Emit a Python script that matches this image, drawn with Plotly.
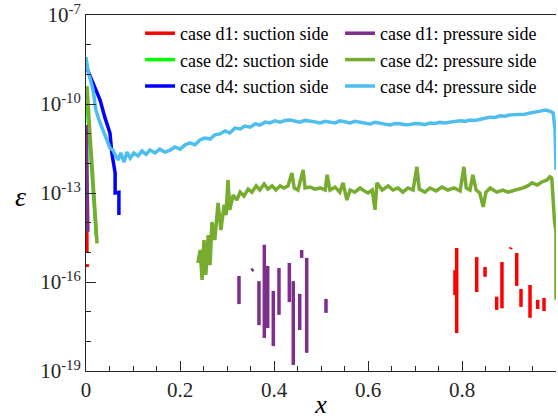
import plotly.graph_objects as go

# ---------------- data ----------------
# case d1: suction side (segments separated by None)
d1s_x = [0.001, 0.002, None, 0.0025, 0.0025, None,
         0.7887, 0.7887, None, 0.7850, 0.7850, None, 0.8313, 0.8313, None,
         0.849, 0.849, None, 0.8738, 0.8738, None, 0.885, 0.885, None,
         0.9030, 0.9045, None, 0.9164, 0.9164, None, 0.9255, 0.9255, None,
         0.9447, 0.9447, None, 0.961, 0.961, None, 0.9745, 0.9745]
d1s_y = [1.0e-12, 9.5e-16, None, 4.0e-16, 3.2e-16, None,
         1.4e-15, 1.9e-18, None, 2.5e-16, 3.6e-17, None, 6.9e-16, 4.6e-17, None,
         3.2e-16, 1.5e-16, None, 3.2e-17, 1.15e-17, None, 4.7e-16, 1.3e-17, None,
         1.3e-15, 1.45e-15, None, 9.5e-16, 7.4e-17, None, 5.8e-17, 1.45e-17, None,
         7.9e-17, 6.2e-18, None, 2.5e-17, 1.23e-17, None, 2.9e-17, 1.05e-17]

# case d2: suction side
d2s_x = [0.0, 0.010, 0.022]
d2s_y = [3.5e-10, 1.2e-12, 3.5e-15]

# case d4: suction side
d4s_x = [0.0, 0.015, 0.030, 0.040, 0.051, 0.055, 0.062, 0.062, 0.070, 0.070]
d4s_y = [1.9e-9, 5.1e-10, 1.35e-10, 3.6e-11, 1.05e-11, 2.24e-12, 4.7e-13, 1.0e-13, 1.05e-13, 1.8e-14]

# case d1: pressure side
d1p_x = [0.0005, 0.004, None,
         0.3255, 0.3255, None, 0.352, 0.356, None, 0.368, 0.368, None,
         0.3794, 0.3794, None, 0.3866, 0.3866, None, 0.3985, 0.3985, None,
         0.4106, 0.4106, None, 0.4326, 0.4326, None, 0.441, 0.441, None,
         0.4547, 0.4547, None, 0.4589, 0.4589, None, 0.4696, 0.4696, None,
         0.5106, 0.5106]
d1p_y = [1.95e-11, 4.9e-15, None,
         1.6e-16, 1.8e-17, None, 2.4e-16, 2.7e-16, None, 1.07e-16, 3.5e-18, None,
         1.8e-15, 1.3e-18, None, 3.5e-16, 2.8e-18, None, 5.0e-17, 6.9e-19, None,
         2.95e-16, 7.8e-18, None, 4.4e-16, 2.1e-17, None, 1.07e-16, 1.6e-19, None,
         4.0e-17, 2.4e-18, None, 1.2e-15, 6.5e-16, None, 6.5e-16, 4.1e-19, None,
         2.7e-17, 9.1e-18]

# case d2: pressure side
d2p_x = [0.002, 0.012, 0.0234, None,
         0.238, 0.243, 0.247, 0.251, 0.255, 0.260, 0.264, 0.268, 0.274, 0.281,
         0.287, 0.294, 0.298, 0.302, 0.306, 0.313, 0.321, 0.328, 0.336, 0.345,
         0.353, 0.362, 0.370, 0.379, 0.387, 0.396, 0.404, 0.413, 0.421, 0.430,
         0.438, 0.443, 0.451, 0.462, 0.466, 0.477, 0.487, 0.498, 0.509, 0.513,
         0.519, 0.530, 0.540, 0.547, 0.555, 0.562, 0.572, 0.583, 0.589, 0.600,
         0.609, 0.615, 0.619, 0.630, 0.643, 0.653, 0.664, 0.674, 0.685, 0.696,
         0.704, 0.709, 0.721, 0.732, 0.745, 0.757, 0.770, 0.783, 0.796, 0.804,
         0.809, 0.817, 0.823, 0.830, 0.838, 0.845, 0.851, 0.860, 0.874, 0.887,
         0.898, 0.909, 0.919, 0.930, 0.940, 0.949, 0.960, 0.970, 0.981, 0.987,
         0.991, 0.995, 0.997, 1.0, 1.0]
d2p_y = [4.0e-10, 1.0e-12, 2.0e-15, None,
         4.4e-16, 1.2e-15, 1.17e-16, 2.6e-15, 1.74e-16, 3.8e-15, 3.7e-16, 1.05e-14, 2.6e-15, 4.6e-14,
         5.6e-15, 4.0e-14, 1.8e-14, 2.75e-13, 2.7e-14, 8.5e-14, 5.8e-14, 1.07e-13, 7.9e-14, 1.35e-13,
         1.07e-13, 1.74e-13, 1.26e-13, 2.0e-13, 1.35e-13, 1.74e-13, 1.26e-13, 1.74e-13, 1.48e-13, 1.74e-13,
         4.7e-13, 1.48e-13, 1.26e-13, 6.0e-13, 1.48e-13, 1.58e-13, 1.35e-13, 1.48e-13, 1.26e-13, 4.1e-13,
         1.26e-13, 1.58e-13, 1.07e-13, 2.2e-13, 5.8e-14, 1.26e-13, 1.07e-13, 1.48e-13, 1.26e-13, 1.0e-13,
         1.26e-13, 2.7e-14, 2.2e-13, 1.26e-13, 1.74e-13, 1.26e-13, 1.48e-13, 1.07e-13, 1.48e-13, 1.26e-13,
         7.6e-13, 1.35e-13, 1.07e-13, 1.48e-13, 1.17e-13, 1.58e-13, 1.26e-13, 1.48e-13, 1.17e-13, 7.6e-13,
         1.48e-13, 1.26e-13, 4.1e-13, 1.26e-13, 1.0e-13, 3.4e-14, 1.07e-13, 1.48e-13, 1.07e-13, 1.26e-13,
         1.07e-13, 1.17e-13, 1.35e-13, 1.48e-13, 1.74e-13, 2.2e-13, 1.86e-13, 2.35e-13, 2.75e-13, 3.5e-13,
         3.2e-13, 2.7e-14, 1.0e-14, 5.0e-15, 2.5e-17]

# case d4: pressure side
d4p_x = [0.000, 0.004, 0.015, 0.021, 0.030, 0.040, 0.051, 0.057, 0.068, 0.074,
         0.081, 0.087, 0.094, 0.102, 0.111, 0.119, 0.128, 0.136, 0.147, 0.157,
         0.168, 0.179, 0.189, 0.200, 0.211, 0.221, 0.232, 0.243, 0.253, 0.264,
         0.274, 0.285, 0.296, 0.306, 0.317, 0.328, 0.338, 0.349, 0.360, 0.370,
         0.381, 0.391, 0.402, 0.413, 0.424, 0.434, 0.445, 0.455, 0.466, 0.477,
         0.487, 0.498, 0.509, 0.519, 0.530, 0.540, 0.551, 0.562, 0.572, 0.583,
         0.594, 0.604, 0.615, 0.626, 0.636, 0.647, 0.657, 0.668, 0.679, 0.689,
         0.700, 0.711, 0.721, 0.732, 0.743, 0.753, 0.764, 0.774, 0.785, 0.796,
         0.806, 0.817, 0.828, 0.838, 0.849, 0.860, 0.870, 0.881, 0.891, 0.902,
         0.913, 0.923, 0.934, 0.945, 0.955, 0.966, 0.977, 0.987, 0.994, 0.998, 1.000]
d4p_y = [3.8e-9, 1.41e-9, 2.95e-10, 6.3e-11, 2.3e-11, 9.1e-12, 3.3e-12, 2.8e-12, 1.29e-12, 2.24e-12,
         1.1e-12, 2.4e-12, 1.5e-12, 2.24e-12, 1.78e-12, 2.6e-12, 2.0e-12, 2.8e-12, 2.24e-12, 3.0e-12,
         2.4e-12, 2.8e-12, 3.55e-12, 3.0e-12, 4.2e-12, 4.9e-12, 4.2e-12, 6.2e-12, 7.1e-12, 6.6e-12,
         9.1e-12, 9.8e-12, 1.23e-11, 1.05e-11, 1.55e-11, 1.45e-11, 1.8e-11, 1.66e-11, 2.14e-11, 1.95e-11,
         2.45e-11, 2.3e-11, 2.7e-11, 2.45e-11, 2.8e-11, 2.9e-11, 2.6e-11, 2.45e-11, 2.8e-11, 2.7e-11,
         2.5e-11, 2.3e-11, 2.6e-11, 2.45e-11, 2.3e-11, 2.7e-11, 2.5e-11, 2.3e-11, 2.6e-11, 2.45e-11,
         2.3e-11, 2.14e-11, 2.4e-11, 2.3e-11, 2.1e-11, 1.95e-11, 2.2e-11, 2.14e-11, 2.0e-11, 2.04e-11,
         2.2e-11, 2.14e-11, 2.0e-11, 2.3e-11, 2.2e-11, 2.4e-11, 2.3e-11, 2.45e-11, 2.6e-11, 2.7e-11,
         2.6e-11, 2.9e-11, 2.8e-11, 3.1e-11, 3.3e-11, 3.6e-11, 3.5e-11, 4.0e-11, 3.9e-11, 4.3e-11,
         4.4e-11, 4.6e-11, 4.5e-11, 5.0e-11, 5.2e-11, 5.75e-11, 6.3e-11, 5.75e-11, 5.0e-11, 1.35e-11, 6.0e-13]

series = [
    ("case d1: suction side", d1s_x, d1s_y, "#FF0000", 1),
    ("case d2: suction side", d2s_x, d2s_y, "#00FF00", 3),
    ("case d4: suction side", d4s_x, d4s_y, "#0000FF", 5),
    ("case d1: pressure side", d1p_x, d1p_y, "#7E2F8E", 2),
    ("case d2: pressure side", d2p_x, d2p_y, "#77AC30", 4),
    ("case d4: pressure side", d4p_x, d4p_y, "#4DBEEE", 6),
]

y_tickvals = [1e-19, 1e-16, 1e-13, 1e-10, 1e-7]
y_ticktext = ["10<sup>-19</sup>", "10<sup>-16</sup>", "10<sup>-13</sup>", "10<sup>-10</sup>", "10<sup>-7</sup>"]
y_minor = [1e-8, 1e-9, 1e-11, 1e-12, 1e-14, 1e-15, 1e-17, 1e-18]

FONT = "Liberation Serif"
AX = "#262626"

fig = go.Figure()
for name, xs, ys, col, rank in series:
    fig.add_trace(go.Scatter(x=xs, y=ys, mode="lines", name=name,
                             line=dict(color=col, width=3.5),
                             connectgaps=False, legendrank=rank))

fig.update_layout(
    width=558, height=419,
    margin=dict(l=86, r=2, t=15, b=48, autoexpand=False),
    paper_bgcolor="white", plot_bgcolor="white",
    font=dict(family=FONT, color="black"),
    showlegend=True,
    legend=dict(orientation="h", x=0.115, y=1.0, xanchor="left", yanchor="top",
                bgcolor="rgba(0,0,0,0)", font=dict(family=FONT, size=18, color="black"),
                entrywidth=155, tracegroupgap=0),
    xaxis=dict(range=[0, 1], showgrid=False, zeroline=False, automargin=False,
               showline=True, linecolor=AX, linewidth=1, mirror=True,
               ticks="inside", ticklen=10, tickcolor=AX,
               tickvals=[0, 0.2, 0.4, 0.6, 0.8, 1.0],
               ticktext=["0", "0.2", "0.4", "0.6", "0.8", "1"],
               minor=dict(ticks="inside", ticklen=5, tickcolor=AX, dtick=0.05, showgrid=False),
               tickfont=dict(family=FONT, size=21, color=AX),
               title=dict(text="<i>x</i>", font=dict(family=FONT, size=26, color="black"), standoff=2)),
    yaxis=dict(type="log", range=[-19, -7], showgrid=False, zeroline=False, automargin=False,
               showline=True, linecolor=AX, linewidth=1,
               ticks="inside", ticklen=10, tickcolor=AX,
               tickvals=y_tickvals, ticktext=y_ticktext,
               minor=dict(ticks="inside", ticklen=5, tickcolor=AX, tickvals=y_minor, showgrid=False),
               tickfont=dict(family=FONT, size=21, color=AX)),
    annotations=[dict(text="<i>ε</i>", xref="paper", yref="paper", x=-0.14, y=0.49,
                      xanchor="center", yanchor="middle", showarrow=False,
                      font=dict(family=FONT, size=28, color="black"))],
)

fig.write_html("out.html")
